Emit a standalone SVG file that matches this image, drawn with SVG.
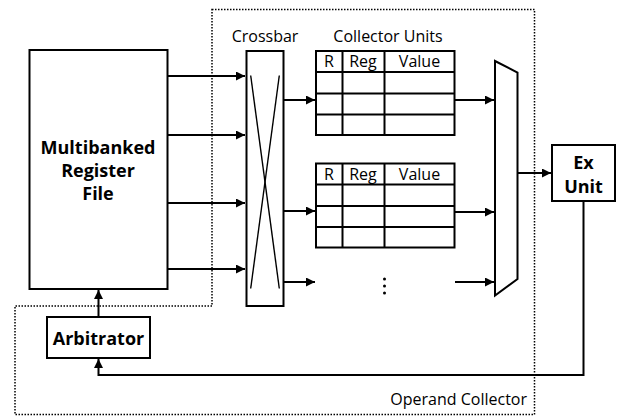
<svg xmlns="http://www.w3.org/2000/svg" width="618" height="417" viewBox="0 0 618 417">
<style>
.box{fill:#fff;stroke:#000;stroke-width:2}
.ln{fill:none;stroke:#000;stroke-width:2}
.thin{fill:none;stroke:#000;stroke-width:1.4}
.dot{fill:none;stroke:#000;stroke-width:1.5;stroke-dasharray:1.5 1.5}
text{font-family:"Open Sans","Noto Sans","DejaVu Sans",sans-serif;fill:#000}
.b{font-weight:bold;font-size:18px;text-anchor:middle}
.n{font-size:16px}
.c{text-anchor:middle}
</style>
<defs>
<marker id="ah" viewBox="0 0 10 10" refX="10" refY="5" markerWidth="4.5" markerHeight="4.5" orient="auto" markerUnits="strokeWidth">
<path d="M0,0 L10,5 L0,10 z" fill="#000"/>
</marker>
</defs>
<g id="operand-collector">
<path class="dot" d="M212,9.5 H534.5 V414.5 H15 V306 H212 Z"/>
<text class="n" x="527" y="405" text-anchor="end">Operand Collector</text>
</g>
<g id="connectors">
<line class="ln" x1="168" y1="76" x2="245" y2="76" marker-end="url(#ah)"/>
<line class="ln" x1="168" y1="135" x2="245" y2="135" marker-end="url(#ah)"/>
<line class="ln" x1="168" y1="203" x2="245" y2="203" marker-end="url(#ah)"/>
<line class="ln" x1="168" y1="269" x2="245" y2="269" marker-end="url(#ah)"/>
<line class="ln" x1="284" y1="100" x2="315" y2="100" marker-end="url(#ah)"/>
<line class="ln" x1="284" y1="211" x2="315" y2="211" marker-end="url(#ah)"/>
<line class="ln" x1="284" y1="282" x2="315" y2="282" marker-end="url(#ah)"/>
<line class="ln" x1="455" y1="100" x2="494" y2="100" marker-end="url(#ah)"/>
<line class="ln" x1="455" y1="212" x2="494" y2="212" marker-end="url(#ah)"/>
<line class="ln" x1="455" y1="282" x2="494" y2="282" marker-end="url(#ah)"/>
<line class="ln" x1="517" y1="173" x2="551" y2="173" marker-end="url(#ah)"/>
<polyline class="ln" points="583.5,202 583.5,375 98.5,375 98.5,359" marker-end="url(#ah)"/>
<line class="ln" x1="98.5" y1="317" x2="98.5" y2="290" marker-end="url(#ah)"/>
</g>
<g id="register-file">
<rect class="box" x="29.5" y="50" width="138" height="239"/>
<text class="b" x="98" y="154">Multibanked</text>
<text class="b" x="98" y="177">Register</text>
<text class="b" x="98" y="200">File</text>
</g>
<g id="crossbar">
<text class="n c" x="265" y="42">Crossbar</text>
<rect class="box" x="246.5" y="51" width="37" height="255"/>
<line class="thin" x1="250.7" y1="75.5" x2="279.3" y2="288.5"/>
<line class="thin" x1="279.3" y1="75.5" x2="250.7" y2="288.5"/>
</g>
<g id="collector-unit-1">
<text class="n c" x="388" y="42">Collector Units</text>
<rect class="box" x="316" y="51" width="138.5" height="84"/>
<path class="ln" d="M316,72 H454.5 M316,93.5 H454.5 M316,114.5 H454.5 M342.5,51 V135 M384.5,51 V135"/>
<text class="n c" x="329" y="67">R</text>
<text class="n c" x="363" y="67">Reg</text>
<text class="n c" x="419.5" y="67">Value</text>
</g>
<g id="collector-unit-2">
<rect class="box" x="316" y="163.5" width="138.5" height="84"/>
<path class="ln" d="M316,184.5 H454.5 M316,206 H454.5 M316,227 H454.5 M342.5,163.5 V247.5 M384.5,163.5 V247.5"/>
<text class="n c" x="329" y="180">R</text>
<text class="n c" x="363" y="180">Reg</text>
<text class="n c" x="419.5" y="180">Value</text>
</g>
<g id="ellipsis">
<circle cx="384.5" cy="279" r="1.5"/>
<circle cx="384.5" cy="286" r="1.5"/>
<circle cx="384.5" cy="293" r="1.5"/>
</g>
<g id="mux">
<polygon class="box" points="495,61 517.5,72.5 517.5,279 495,295.5"/>
</g>
<g id="ex-unit">
<rect class="box" x="552" y="145" width="63" height="56"/>
<text class="b" x="583.5" y="169">Ex</text>
<text class="b" x="583.5" y="193">Unit</text>
</g>
<g id="arbitrator">
<rect class="box" x="47" y="317" width="103" height="41"/>
<text class="b" x="98.5" y="344.5">Arbitrator</text>
</g>
</svg>
